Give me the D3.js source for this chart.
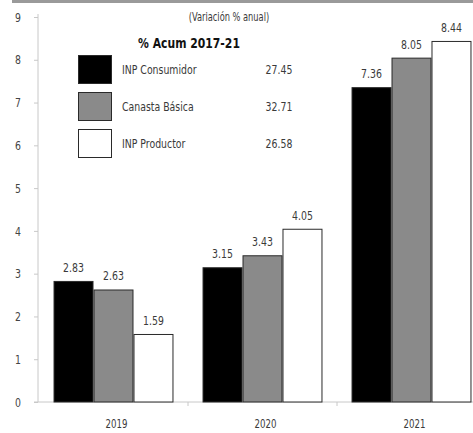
<!DOCTYPE html>
<html>
<head>
<meta charset="utf-8">
<script src="https://cdn.jsdelivr.net/npm/d3@7"></script>
<style>
  html, body { margin: 0; padding: 0; background: #fff; }
  svg { display: block; }
  text { font-family: "DejaVu Sans Condensed", "DejaVu Sans", sans-serif; fill: #3a3a3a; }
</style>
</head>
<body>
<svg id="chart" width="473" height="433"></svg>
<script>
// Annual price variation by index
const years = ["2019", "2020", "2021"];
const seriesNames = ["INP Consumidor", "Canasta Básica", "INP Productor"];
const inpConsumidor = [2.83, 3.15, 7.36];
const canastaBasica = [2.63, 3.43, 8.05];
const inpProductor = [1.59, 4.05, 8.44];
const acumulado = ["27.45", "32.71", "26.58"];
const yTicks = [0, 1, 2, 3, 4, 5, 6, 7, 8, 9];
const subtitle = "(Variación % anual)";
const legendTitle = "% Acum 2017-21";

const fills = ["#000000", "#8a8a8a", "#ffffff"];
const allSeries = [inpConsumidor, canastaBasica, inpProductor];
const SX = 0.8; // horizontal squeeze for a narrow typeface look

const svg = d3.select("#chart");

// Narrow text placed at (x, y)
function label(sel, x, y, txt, size, anchor, sx) {
  return sel.append("text")
    .attr("transform", `translate(${x},${y}) scale(${sx || SX},1)`)
    .attr("text-anchor", anchor || "start")
    .attr("font-size", size)
    .text(txt);
}

// Top rule
svg.append("rect").attr("x", 12).attr("y", 0).attr("width", 461).attr("height", 3).attr("fill", "#9a9a9a");

const x0 = d3.scaleBand().domain(years).range([39, 486]).paddingInner(0.195).paddingOuter(0.0975);
const x1 = d3.scaleBand().domain(d3.range(seriesNames.length)).range([0, x0.bandwidth()]);
const y = d3.scaleLinear().domain([0, 9]).range([402, 17]);

// Y axis
const yAxis = svg.append("g").attr("transform", "translate(38,0)")
  .call(d3.axisLeft(y).tickValues(yTicks).tickSize(4).tickPadding(12).tickFormat(d3.format("d")));
yAxis.select(".domain").attr("stroke", "#c8c8c8").attr("d", `M0,${y(9) - 3}V${y(0)}`);
yAxis.selectAll(".tick line").attr("stroke", "#c8c8c8");
yAxis.selectAll(".tick text")
  .attr("font-size", 13)
  .attr("x", -17 / SX)
  .attr("transform", `scale(${SX},1)`)
  .style("fill", "#444");

// X axis baseline with boundary ticks
const xAxis = svg.append("g").attr("transform", `translate(0,${y(0)})`);
xAxis.append("line").attr("x1", 34).attr("x2", 473).attr("stroke", "#c8c8c8");
years.slice(1).forEach(yr => {
  const bx = x0(yr) - x0.step() * x0.paddingInner() / 2;
  xAxis.append("line").attr("x1", bx).attr("x2", bx).attr("y1", 0).attr("y2", 4).attr("stroke", "#c8c8c8");
});
years.forEach(yr => label(xAxis, x0(yr) + x0.bandwidth() / 2 + 3, 26, yr, 12, "middle"));

// Bars
const groups = svg.append("g").selectAll("g").data(years).join("g")
  .attr("transform", d => `translate(${x0(d)},0)`);

const cells = (d, i) => allSeries.map((s, k) => ({ k, v: s[i] }));

groups.selectAll("rect").data(cells).join("rect")
  .attr("x", d => x1(d.k) + 0.5)
  .attr("y", d => y(d.v) + 0.5)
  .attr("width", x1.bandwidth() - 1)
  .attr("height", d => y(0) - y(d.v) - 0.5)
  .attr("fill", d => fills[d.k])
  .attr("stroke", "#2a2a2a")
  .attr("stroke-width", 1);

groups.selectAll("text").data(cells).join("text")
  .attr("transform", d => `translate(${x1(d.k) + x1.bandwidth() / 2},${y(d.v) - 9}) scale(${SX},1)`)
  .attr("text-anchor", "middle")
  .attr("font-size", 13)
  .text(d => d3.format(".2f")(d.v));

// Subtitle
label(svg, 229, 21, subtitle, 11.5, "middle");

// Legend
label(svg, 189, 48, legendTitle, 14, "middle", 0.86).attr("font-weight", "bold").style("fill", "#111");

const legend = svg.append("g").selectAll("g").data(seriesNames).join("g")
  .attr("transform", (d, i) => `translate(78,${55 + i * 37})`);
legend.append("rect").attr("x", 0.5).attr("y", 0.5).attr("width", 33).attr("height", 28)
  .attr("fill", (d, i) => fills[i]).attr("stroke", "#2a2a2a");
legend.each(function (d, i) {
  const g = d3.select(this);
  label(g, 44, 19, d, 13);
  label(g, 201, 19, acumulado[i], 13, "middle");
});
</script>
</body>
</html>
